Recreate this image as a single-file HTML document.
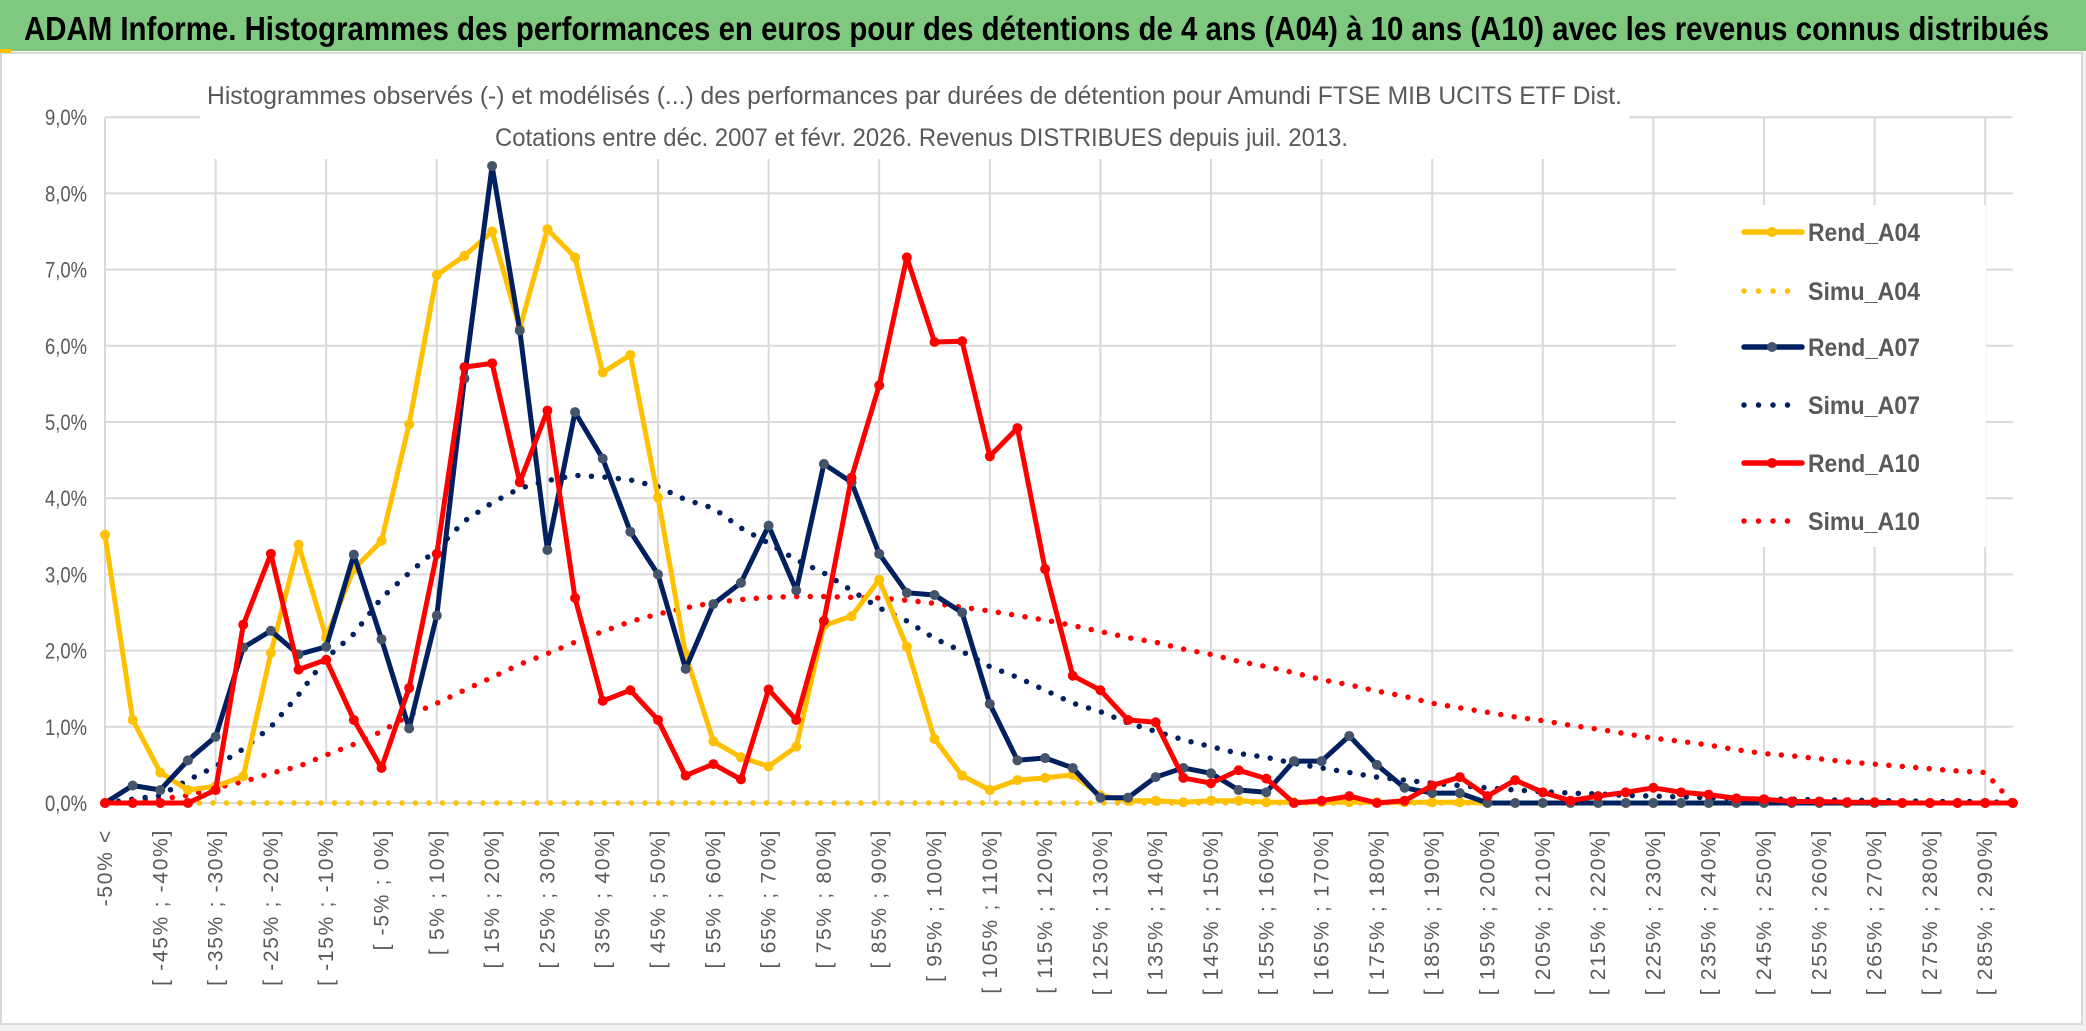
<!DOCTYPE html>
<html><head><meta charset="utf-8"><style>
html,body{margin:0;padding:0;background:#fff;}
svg{display:block;}
text{font-family:"Liberation Sans",sans-serif;}
</style></head><body>
<svg id="chart" width="2086" height="1031" viewBox="0 0 2086 1031" xmlns="http://www.w3.org/2000/svg">
<rect x="0" y="0" width="2086" height="1031" fill="#f2f2f2"/>
<rect x="0" y="0" width="2086" height="51" fill="#7ec97f"/>
<text x="24" y="40" font-size="33" font-weight="bold" fill="#000" textLength="2025" lengthAdjust="spacingAndGlyphs">ADAM Informe. Histogrammes des performances en euros pour des détentions de 4 ans (A04) à 10 ans (A10) avec les revenus connus distribués</text>
<rect x="1" y="53" width="2081" height="971" fill="#fff" stroke="#d9d9d9" stroke-width="2"/>
<rect x="0" y="49" width="11" height="4" fill="#ffc000"/>
<g id="grid"></g>
<rect x="200" y="60" width="1429" height="99" fill="#fff"/>
<text x="207" y="104" font-size="25" fill="#595959" textLength="1415" lengthAdjust="spacingAndGlyphs">Histogrammes observés (-) et modélisés (...) des performances par durées de détention pour Amundi FTSE MIB UCITS ETF Dist.</text>
<text x="495" y="146" font-size="25" fill="#595959" textLength="853" lengthAdjust="spacingAndGlyphs">Cotations entre déc. 2007 et févr. 2026. Revenus DISTRIBUES depuis juil. 2013.</text>
<g id="yaxis"></g>
<g id="xaxis"></g>
<g id="series"></g>
<g id="legend"></g>
</svg>
<script>
const categories = ["-50% <"];
for (let k = 1; k < 69; k++) { categories.push("[ " + (-50 + 5 * (k - 1)) + "% ; " + (-45 + 5 * (k - 1)) + "%]"); }
categories.push("290% >");
const yTicks = [0,1,2,3,4,5,6,7,8,9];
const yTickLabels = ["0,0%","1,0%","2,0%","3,0%","4,0%","5,0%","6,0%","7,0%","8,0%","9,0%"];
const rendA04 = [3.52,1.09,0.40,0.17,0.22,0.35,1.97,3.39,2.17,3.07,3.44,4.97,6.93,7.18,7.50,6.23,7.53,7.16,5.65,5.88,4.01,1.95,0.81,0.60,0.48,0.74,2.33,2.45,2.93,2.05,0.84,0.36,0.17,0.30,0.33,0.37,0.10,0.03,0.03,0.01,0.03,0.03,0.01,0.01,0.01,0.01,0.01,0.01,0.01,0.01,0,0,0,0,0,0,0,0,0,0,0,0,0,0,0,0,0,0,0,0];
const simuA04 = [0,0,0,0,0,0,0,0,0,0,0,0,0,0,0,0,0,0,0,0,0,0,0,0,0,0,0,0,0,0,0,0,0,0,0,0,0,0,0,0,0,0,0,0,0,0,0,0,0,0,0,0,0,0,0,0,0,0,0,0,0,0,0,0,0,0,0,0,0,0];
const rendA07 = [0,0.23,0.17,0.56,0.87,2.04,2.26,1.95,2.05,3.26,2.15,0.98,2.46,5.57,8.36,6.20,3.32,5.13,4.52,3.56,3.00,1.76,2.61,2.89,3.64,2.79,4.45,4.21,3.27,2.76,2.73,2.50,1.30,0.56,0.59,0.46,0.07,0.07,0.34,0.46,0.39,0.17,0.14,0.55,0.55,0.88,0.50,0.20,0.13,0.13,0,0,0,0,0,0,0,0,0,0,0,0,0,0,0,0,0,0,0,0];
const simuA07 = [0,0.05,0.1,0.3,0.48,0.71,1.0,1.42,1.9,2.22,2.69,3.02,3.33,3.7,3.94,4.13,4.23,4.3,4.28,4.24,4.15,3.98,3.87,3.61,3.41,3.19,3.02,2.79,2.56,2.39,2.16,1.99,1.79,1.65,1.48,1.31,1.2,1.05,0.94,0.83,0.74,0.65,0.6,0.52,0.46,0.4,0.34,0.3,0.26,0.23,0.2,0.17,0.15,0.13,0.12,0.1,0.09,0.08,0.07,0.06,0.05,0.05,0.04,0.04,0.03,0.03,0.02,0.02,0.02,0];
const rendA10 = [0,0,0,0,0.17,2.34,3.27,1.75,1.88,1.09,0.46,1.51,3.27,5.72,5.77,4.21,5.15,2.69,1.34,1.48,1.09,0.36,0.51,0.31,1.49,1.09,2.39,4.27,5.48,7.16,6.05,6.06,4.55,4.92,3.07,1.67,1.48,1.09,1.06,0.33,0.26,0.43,0.32,0,0.03,0.09,0,0.03,0.23,0.34,0.09,0.30,0.14,0.03,0.09,0.14,0.20,0.14,0.11,0.06,0.05,0.02,0.02,0.01,0.01,0,0,0,0,0];
const simuA10 = [0,0.02,0.05,0.1,0.2,0.28,0.39,0.48,0.63,0.77,0.94,1.15,1.31,1.48,1.65,1.82,1.96,2.11,2.25,2.38,2.48,2.56,2.63,2.67,2.7,2.71,2.71,2.7,2.69,2.66,2.62,2.57,2.52,2.46,2.4,2.33,2.25,2.17,2.11,2.02,1.95,1.86,1.79,1.71,1.62,1.55,1.47,1.4,1.31,1.25,1.19,1.13,1.08,1.02,0.97,0.91,0.85,0.81,0.76,0.7,0.65,0.62,0.58,0.54,0.51,0.48,0.45,0.42,0.40,0];

const NS = "http://www.w3.org/2000/svg";
const X0 = 105, DX = 27.65, Y0 = 803, DY = 76.2;
function xPos(i) { return X0 + i * DX; }
function yPos(v) { return Y0 - v * DY; }
function mk(tag, attrs, parent) {
  const e = document.createElementNS(NS, tag);
  for (const k in attrs) e.setAttribute(k, attrs[k]);
  parent.appendChild(e);
  return e;
}
const grid = document.getElementById('grid');
const xEnd = xPos(categories.length - 1);
yTicks.forEach((t) => {
  const y = yPos(t);
  const l = mk('line', {x1: X0, x2: xEnd, y1: y, y2: y, stroke: '#d9d9d9', 'stroke-width': 2}, grid);
  
  
});
for (let i = 0; i < categories.length; i += 4) {
  const l = mk('line', {x1: xPos(i), x2: xPos(i), y1: yPos(9), y2: Y0, stroke: '#d9d9d9', 'stroke-width': 2}, grid);
  
  
}
const legendBg = mk('rect', {x: 1676, y: 205, width: 310, height: 342, fill: '#fff'}, grid);



const yaxis = document.getElementById('yaxis');
yTicks.forEach((t, i) => {
  const tx = mk('text', {x: 87, y: yPos(t) + 8, 'font-size': 22, fill: '#595959', 'text-anchor': 'end', textLength: 42, lengthAdjust: 'spacingAndGlyphs'}, yaxis);
  tx.textContent = yTickLabels[i];
  
  
});
const xaxis = document.getElementById('xaxis');
for (let i = 0; i < categories.length; i += 2) {
  const x = xPos(i) + 7, y = 829;
  const tx = mk('text', {x: x, y: y, 'font-size': 21, 'letter-spacing': 1.7, fill: '#595959', 'text-anchor': 'end', 'font-family': '"DejaVu Sans", sans-serif', transform: 'rotate(-90 ' + x + ' ' + y + ')'}, xaxis);
  tx.textContent = categories[i];
  
  
}

const seriesG = document.getElementById('series');
function pts(arr) { return arr.map((v, i) => xPos(i).toFixed(1) + ',' + yPos(v).toFixed(1)).join(' '); }
function dotted(arr, color, name) {
  const p = mk('polyline', {points: pts(arr), fill: 'none', stroke: color, 'stroke-width': 5.5, 'stroke-linecap': 'round', 'stroke-dasharray': '0 13.5'}, seriesG);
  
  
}
function solid(arr, color, mcolor, name) {
  const g = mk('g', {}, seriesG);
  
  
  const p = mk('polyline', {points: pts(arr), fill: 'none', stroke: color, 'stroke-width': 5, 'stroke-linejoin': 'round'}, g);
  
  
  arr.forEach((v, i) => {
    const c = mk('circle', {cx: xPos(i), cy: yPos(v), r: 5, fill: mcolor}, g);
    
    
  });
}
dotted(simuA04, '#ffc000', 'simu-a04-line');
dotted(simuA10, '#ff0000', 'simu-a10-line');
dotted(simuA07, '#002060', 'simu-a07-line');
solid(rendA04, '#ffc000', '#ffc000', 'rend-a04-series');
solid(rendA07, '#002060', '#44546a', 'rend-a07-series');
solid(rendA10, '#ff0000', '#ff0000', 'rend-a10-series');

const legend = document.getElementById('legend');
const legendItems = [
  ['Rend_A04', '#ffc000', '#ffc000', false],
  ['Simu_A04', '#ffc000', null, true],
  ['Rend_A07', '#002060', '#44546a', false],
  ['Simu_A07', '#002060', null, true],
  ['Rend_A10', '#ff0000', '#ff0000', false],
  ['Simu_A10', '#ff0000', null, true]
];
const legendY = [232, 291, 347, 405, 463, 521];
legendItems.forEach((it, i) => {
  const y = legendY[i];
  const g = mk('g', {}, legend);
  
  
  if (it[3]) {
    const l = mk('line', {x1: 1744, x2: 1802, y1: y, y2: y, stroke: it[1], 'stroke-width': 5.5, 'stroke-linecap': 'round', 'stroke-dasharray': '0 14.5'}, g);
    
    
  } else {
    const l = mk('line', {x1: 1744, x2: 1802, y1: y, y2: y, stroke: it[1], 'stroke-width': 5.5, 'stroke-linecap': 'round'}, g);
    
    
    const c = mk('circle', {cx: 1772, cy: y, r: 5, fill: it[2]}, g);
    
    
  }
  const t = mk('text', {x: 1808, y: y + 9, 'font-size': 25, 'font-weight': 'bold', fill: '#595959', textLength: 112, lengthAdjust: 'spacingAndGlyphs'}, g);
  t.textContent = it[0];
  
  
});
</script>
</body></html>
